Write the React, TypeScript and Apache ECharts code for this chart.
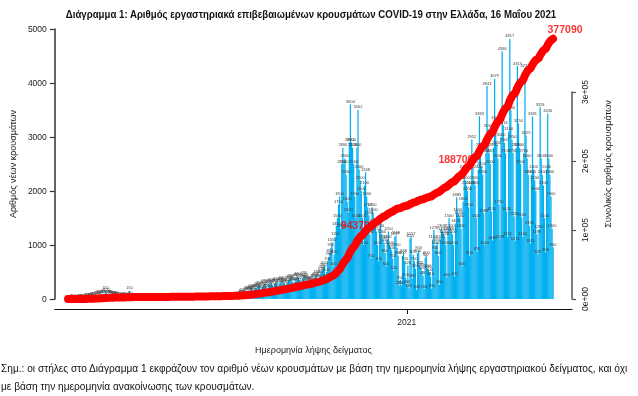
import React, { useEffect, useRef } from "react";
import * as echarts from "echarts";

// Daily new cases by sample date (Greece)
const feb2020 = [1, 1, 1, 0];
const mar2020 = [1, 0, 2, 4, 2, 8, 10, 14, 16, 9, 20, 24, 18, 30, 35, 48, 30, 40, 50, 60, 70, 75, 60, 45, 80, 90, 95, 85, 150, 120, 90];
const apr2020 = [90, 85, 80, 70, 60, 65, 70, 60, 55, 50, 40, 35, 30, 45, 40, 35, 30, 25, 50, 150, 60, 30, 25, 20, 15, 20, 15, 10, 12, 15];
const may2020 = [10, 12, 8, 15, 10, 6, 12, 14, 10, 8, 5, 12, 15, 10, 8, 6, 10, 12, 15, 8, 5, 10, 12, 15, 8, 6, 10, 12, 15, 10, 8];
const jun2020 = [12, 15, 10, 8, 20, 18, 15, 12, 10, 15, 20, 25, 18, 12, 10, 15, 20, 22, 30, 25, 18, 20, 25, 30, 35, 28, 22, 18, 25, 30];
const jul2020 = [25, 30, 28, 35, 20, 18, 25, 30, 35, 40, 32, 28, 25, 30, 35, 40, 38, 30, 25, 35, 40, 45, 40, 38, 35, 30, 45, 50, 55, 60, 70];
const aug2020 = [80, 110, 120, 90, 70, 130, 150, 160, 140, 180, 200, 150, 120, 190, 200, 230, 220, 250, 180, 150, 230, 260, 280, 240, 200, 170, 260, 290, 300, 250, 200];
const sep2020 = [280, 300, 320, 250, 200, 280, 330, 340, 310, 290, 260, 210, 300, 350, 360, 380, 330, 300, 240, 330, 400, 420, 390, 350, 310, 250, 380, 430, 400, 360];
const oct2020 = [320, 350, 330, 230, 280, 340, 380, 400, 420, 450, 300, 380, 460, 510, 540, 580, 620, 380, 500, 700, 780, 850, 950, 1050, 600, 820, 1150, 1350, 1500, 1750, 1900];
const nov2020 = [1300, 2500, 2800, 2500, 2600, 2300, 1800, 1600, 2900, 3604, 2900, 2800, 2500, 1900, 1500, 2800, 3502, 2400, 2200, 2000, 1500, 1000, 2100, 2348, 1900, 1700, 1550, 1200, 750, 1700];
const dec2020 = [1600, 1400, 1350, 1250, 1000, 700, 1300, 1420, 1200, 1100, 1050, 850, 600, 1100, 1250, 1000, 950, 900, 750, 520, 1157, 1169, 950, 800, 250, 350, 250, 800, 848, 700, 400];
const jan2021 = [266, 620, 195, 1115, 1157, 380, 820, 700, 560, 168, 850, 900, 620, 580, 520, 430, 184, 760, 800, 560, 540, 500, 410, 190, 1100, 1276, 900, 1000, 1050, 800, 260];
const feb2021 = [1100, 1308, 1250, 1200, 1150, 1000, 400, 1250, 1500, 1300, 1250, 1200, 1000, 420, 1400, 1885, 1600, 1550, 1500, 1300, 600, 1800, 2400, 2200, 2100, 2000, 1700, 800];
const mar2021 = [2100, 2952, 2500, 2200, 2100, 1500, 876, 2400, 3383, 2800, 2450, 2300, 1588, 1000, 2700, 3943, 3150, 2700, 2500, 1620, 1081, 2800, 4079, 3300, 2850, 2600, 1755, 1109, 3000, 4586, 3216];
const apr2021 = [2900, 2700, 1620, 1151, 3100, 4817, 3500, 2950, 2700, 1526, 1071, 2800, 4313, 3250, 2800, 2500, 1516, 1150, 2700, 4273, 3029, 2600, 2300, 1356, 1021, 2300, 3381, 2400, 2200, 2000];
const may2021 = [1199, 829, 1290, 3553, 2600, 2300, 2100, 1500, 866, 2400, 3436, 2600, 2300, 1900, 1300, 960];

// First day of the series (26 Feb 2020); x values are days since that date
const START = { year: 2020, month: 1, day: 26 };
// Cumulative milestones annotated on the red line
const milestones = [94370, 188700];

const leftTicks = { min: 0, max: 5000, interval: 1000 };
const rightTicks = { min: 0, max: 300000, interval: 100000 };

const TITLE = "Διάγραμμα 1: Αριθμός εργαστηριακά επιβεβαιωμένων κρουσμάτων COVID-19 στην Ελλάδα, 16 Μαΐου 2021";
const NOTE1 = "Σημ.: οι στήλες στο Διάγραμμα 1 εκφράζουν τον αριθμό νέων κρουσμάτων με βάση την ημερομηνία λήψης εργαστηριακού δείγματος, και όχι";
const NOTE2 = "με βάση την ημερομηνία ανακοίνωσης των κρουσμάτων.";

const daily = [
  ...feb2020, ...mar2020, ...apr2020, ...may2020, ...jun2020, ...jul2020, ...aug2020, ...sep2020,
  ...oct2020, ...nov2020, ...dec2020, ...jan2021, ...feb2021, ...mar2021, ...apr2021, ...may2021,
];

const dayOf = (d: number) => new Date(START.year, START.month, START.day + d);
const daysTo = (y: number, m: number, d: number) =>
  Math.round((Date.UTC(y, m, d) - Date.UTC(START.year, START.month, START.day)) / 864e5);

export default function App() {
  const ref = useRef<HTMLDivElement>(null);
  useEffect(() => {
    if (!ref.current) return;
    const chart = echarts.init(ref.current, undefined, { renderer: "svg" });
    const cum: number[] = [];
    daily.forEach((v, i) => cum.push((i ? cum[i - 1] : 0) + v));
    const last = daily.length - 1;
    const xMin = -14.7;
    const xMax = last + 17.4;
    const yearTick = daysTo(2021, 0, 1);

    const redFont = "'Liberation Sans Narrow', 'Liberation Sans', sans-serif";
    const noteData: any[] = milestones.map((m) => {
      const idx = cum.findIndex((c) => c >= m);
      return {
        value: [idx, cum[idx]],
        label: { formatter: String(m), position: "left", distance: 0, offset: [7, -9] },
      };
    });
    noteData.push({
      value: [last, cum[last]],
      label: { formatter: String(cum[last]), position: "top", distance: 4, offset: [12, 0] },
    });

    const font = "'Liberation Sans', Arial, sans-serif";
    const txt = "#222";

    chart.setOption({
      animation: false,
      textStyle: { fontFamily: font },
      grid: [
        { left: 52, right: 66, top: 29, bottom: 97 },
        { left: 52, right: 66, top: 92, bottom: 97 },
      ],
      graphic: [
        {
          type: "text", x: 311, y: 14, scaleX: 0.84,
          style: {
            text: TITLE, fill: "#111", align: "center", verticalAlign: "middle",
            textAlign: "center", textVerticalAlign: "middle",
            font: "bold 11.5px 'Liberation Sans', sans-serif",
          },
        },
        {
          type: "text", x: 1, y: 368, scaleX: 0.958,
          style: { text: NOTE1, fill: "#111", verticalAlign: "middle", textVerticalAlign: "middle", font: "10.6px 'Liberation Sans', sans-serif" },
        },
        {
          type: "text", x: 1, y: 386, scaleX: 0.958,
          style: { text: NOTE2, fill: "#111", verticalAlign: "middle", textVerticalAlign: "middle", font: "10.6px 'Liberation Sans', sans-serif" },
        },
      ],
      xAxis: [
        {
          type: "value", gridIndex: 0, min: xMin, max: xMax, offset: 10,
          axisLine: { show: true, onZero: false, lineStyle: { color: "#111", width: 1.2 } },
          axisTick: { show: true, customValues: [yearTick], length: 5, lineStyle: { color: "#111" } },
          axisLabel: {
            show: true, customValues: [yearTick], margin: 8, fontSize: 8.5, color: txt,
            formatter: (v: number) => String(dayOf(v).getFullYear()),
          },
          splitLine: { show: false },
          name: "Ημερομηνία λήψης δείγματος", nameLocation: "middle", nameGap: 36,
          nameTextStyle: { fontSize: 9, color: txt },
        },
        { type: "value", gridIndex: 1, min: xMin, max: xMax, show: false, axisLine: { onZero: false } },
      ],
      yAxis: [
        {
          type: "value", gridIndex: 0, position: "left", ...leftTicks,
          axisLine: { show: true, onZero: false, lineStyle: { color: "#333", width: 1.5 } },
          axisTick: { show: true, length: 5, lineStyle: { color: "#333", width: 1.2 } },
          axisLabel: { fontSize: 8.5, color: txt, margin: 8, formatter: (v: number) => String(v) },
          splitLine: { show: false },
          name: "Αριθμός νέων κρουσμάτων", nameLocation: "middle", nameGap: 32,
          nameTextStyle: { fontSize: 9, color: txt },
        },
        {
          type: "value", gridIndex: 1, position: "right", ...rightTicks,
          axisLine: { show: true, onZero: false, lineStyle: { color: "#555", width: 1.5 } },
          axisTick: { show: true, length: 4, lineStyle: { color: "#555", width: 1.2 } },
          axisLabel: {
            fontSize: 8.5, color: txt, margin: 8, rotate: 90,
            formatter: (v: number) => (v === 0 ? "0e+00" : `${v / 100000}e+05`),
          },
          splitLine: { show: false },
        },
        {
          type: "value", gridIndex: 0, position: "right",
          axisLine: { show: false, onZero: false }, axisTick: { show: false }, axisLabel: { show: false }, splitLine: { show: false },
          name: "Συνολικός αριθμός κρουσμάτων", nameLocation: "middle", nameGap: 31, nameRotate: 90,
          nameTextStyle: { fontSize: 9, color: txt },
        },
      ],
      series: [
        {
          type: "bar", xAxisIndex: 0, yAxisIndex: 0, z: 2,
          data: daily.map((v, i) => [i, v]),
          barWidth: 1.25,
          itemStyle: { color: "#00b0f0" },
          label: {
            show: true, position: "top", distance: 1, fontSize: 4, color: "#3a3a3a",
            formatter: (p: any) => String(p.value[1]),
          },
        },
        {
          type: "line", xAxisIndex: 1, yAxisIndex: 1, z: 4, clip: false,
          data: cum.map((v, i) => [i, v]),
          showSymbol: false, symbol: "none",
          lineStyle: { color: "#ff0000", width: 8, cap: "round", join: "round" },
        },
        {
          type: "scatter", xAxisIndex: 1, yAxisIndex: 1, z: 5, clip: false, silent: true,
          symbolSize: 1,
          itemStyle: { color: "rgba(0,0,0,0)" },
          label: { show: true, color: "#ff0000", fontSize: 10.5, fontWeight: "bold", fontFamily: redFont },
          data: noteData,
        },
      ],
    });
    return () => chart.dispose();
  }, []);
  return <div ref={ref} style={{ position: "fixed", left: 0, top: 0, width: 638, height: 396 }} />;
}
